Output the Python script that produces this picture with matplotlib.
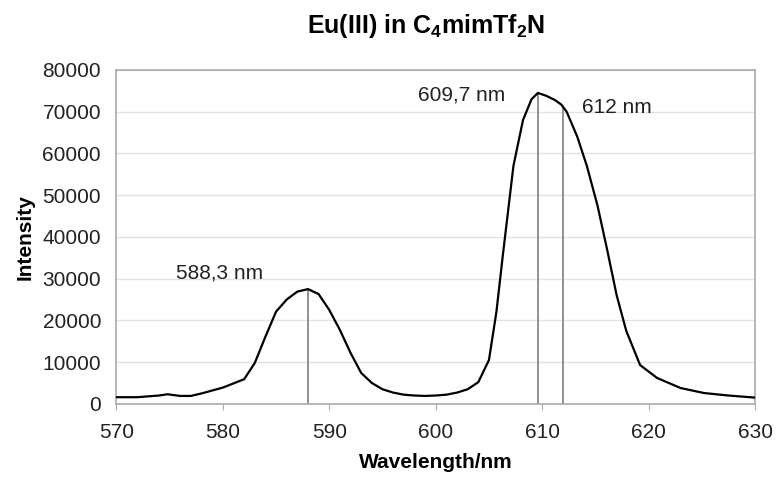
import numpy as np
import matplotlib
matplotlib.use('Agg')
import matplotlib.pyplot as plt

plt.rcParams['font.family'] = ['Liberation Sans', 'DejaVu Sans']
plt.rcParams['mathtext.fontset'] = 'custom'
plt.rcParams['mathtext.bf'] = 'Liberation Sans:bold'
plt.rcParams['mathtext.rm'] = 'Liberation Sans'

# Emission spectrum
wavelength = [570, 572, 574, 574.8, 576, 577, 578, 579, 580, 581, 582, 583, 584, 585, 586,
              587, 588, 589, 590, 591, 592, 593, 594, 595, 596, 597, 598, 599, 600, 601,
              602, 603, 604, 605, 605.7, 606.3, 607.3, 608.2, 609, 609.6, 610.4, 611.2,
              611.8, 612.3, 613.3, 614.2, 615.2, 616.1, 617.0, 617.9, 619.2, 620.8, 623,
              625.2, 627.5, 630]
intensity = [1600, 1600, 2000, 2300, 1900, 1900, 2500, 3200, 3900, 4900, 5900, 9800, 16100,
             22100, 25000, 26900, 27500, 26300, 22500, 17700, 12200, 7400, 5000, 3500, 2700,
             2200, 2000, 1900, 2000, 2200, 2700, 3500, 5200, 10500, 22000, 35500, 57000, 68000,
             73000, 74500, 73800, 72800, 71700, 70000, 64000, 57000, 47500, 37000, 26000,
             17500, 9300, 6200, 3800, 2600, 2000, 1500]

peaks = [588.0, 609.6, 612.0]
peak_labels = ['588,3 nm', '609,7 nm', '612 nm']
label_pos = [(579.7, 31400), (602.4, 74000), (617.0, 70900)]

fig = plt.figure(figsize=(7.76, 4.86), dpi=100)
ax = fig.add_axes([0.150, 0.169, 0.823, 0.687])

ax.plot(wavelength, intensity, color='black', linewidth=1.6, zorder=3)

for p in peaks:
    top = np.interp(p, wavelength, intensity)
    ax.vlines(p, 0, top, color='#888888', linewidth=1.3, zorder=2)

for txt, (lx, ly) in zip(peak_labels, label_pos):
    ax.text(lx, ly, txt, fontsize=15, ha='center', va='center', color='#222222')

ax.set_xlim(570, 630)
ax.set_ylim(0, 80000)
ax.set_xticks(np.arange(570, 631, 10))
ax.set_yticks(np.arange(0, 80001, 10000))
ax.yaxis.grid(True, color='#e2e2e2', linewidth=1)
ax.set_axisbelow(True)
for s in ax.spines.values():
    s.set_color('#aaaaaa')
    s.set_linewidth(1.2)
ax.tick_params(axis='x', colors='#aaaaaa', labelcolor='#222222', labelsize=15, length=4, pad=10)
ax.tick_params(axis='y', length=0, labelcolor='#222222', labelsize=15, pad=11)

ax.set_xlabel('Wavelength/nm', fontsize=15, fontweight='bold', labelpad=8)
ax.set_ylabel('Intensity', fontsize=15, fontweight='bold', labelpad=6)
fig.suptitle(r'Eu(III) in C$_\mathbf{4}$mimTf$_\mathbf{2}$N', fontsize=18, fontweight='bold',
             x=0.549, y=0.975)

fig.savefig('out.png', dpi=100)
